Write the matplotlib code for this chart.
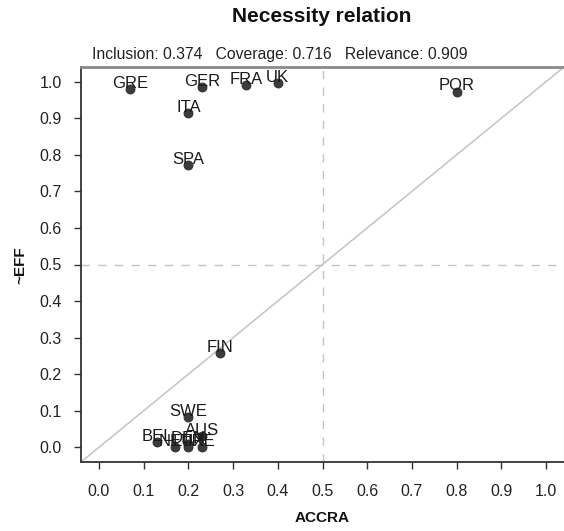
import matplotlib
matplotlib.use("Agg")
import matplotlib.pyplot as plt
import numpy as np

countries = ["GRE", "GER", "FRA", "UK", "ITA", "SPA", "POR", "FIN", "SWE",
             "AUS", "BEL", "NET", "DEN", "LUX", "IRE"]
accra = [0.07, 0.23, 0.33, 0.40, 0.20, 0.20, 0.80, 0.27, 0.20,
         0.23, 0.13, 0.17, 0.20, 0.20, 0.23]
neff = [0.98, 0.985, 0.99, 0.995, 0.915, 0.773, 0.973, 0.258, 0.082,
        0.03, 0.015, 0.0, 0.01, 0.0, 0.0]
ticks = [0.0, 0.1, 0.2, 0.3, 0.4, 0.5, 0.6, 0.7, 0.8, 0.9, 1.0]
tick_labels = ["0.0", "0.1", "0.2", "0.3", "0.4", "0.5", "0.6", "0.7", "0.8", "0.9", "1.0"]
title = "Necessity relation"
subtitle = "Inclusion: 0.374   Coverage: 0.716   Relevance: 0.909"

plt.rcParams['font.family'] = ['Liberation Sans', 'DejaVu Sans']

W, H = 564, 531
fig = plt.figure(figsize=(W / 100, H / 100), dpi=100)
ax = fig.add_axes([81 / W, (H - 462) / H, (564 - 81) / W, (462 - 67) / H])
ax.set_xlim(-0.04, 1.04)
ax.set_ylim(-0.04, 1.04)

ax.plot([-0.04, 1.04], [-0.04, 1.04], color="#c8c8c8", lw=1.2, zorder=1)
ax.axvline(0.5, color="#c4c4c4", lw=1.0, ls=(0, (6, 6)), zorder=1)
ax.axhline(0.5, color="#c4c4c4", lw=1.0, ls=(0, (6, 6)), zorder=1)

ax.scatter(accra, neff, s=42, color="#3c3c3c", edgecolors="#2a2a2a", linewidths=0.6, zorder=3)
for c, x, y in zip(countries, accra, neff):
    ax.annotate(c, (x, y), xytext=(0, 4), textcoords="offset points",
                ha="center", va="center", fontsize=12, color="#1a1a1a", zorder=4)

ax.set_xticks(ticks)
ax.set_xticklabels(tick_labels)
ax.set_yticks(ticks)
ax.set_yticklabels(tick_labels)
ax.tick_params(axis="both", direction="out", length=5, width=1, color="#333333",
               labelsize=11.5, labelcolor="#222222")
ax.tick_params(axis="x", pad=11)
ax.tick_params(axis="y", pad=9)

for s in ["left", "bottom"]:
    ax.spines[s].set_color("#333333")
    ax.spines[s].set_linewidth(1.3)
ax.spines["top"].set_color("#8a8a8a")
ax.spines["top"].set_linewidth(2)
ax.spines["right"].set_color("#e0e0e0")
ax.spines["right"].set_linewidth(1)

fig.text(322 / W, 1 - 17 / H, title, ha="center", va="center", fontsize=15,
         fontweight="bold", color="#111111")
fig.text(92 / W, 1 - 55 / H, subtitle, ha="left", va="center", fontsize=11.3,
         color="#222222")
fig.text(322 / W, 1 - 518 / H, "ACCRA", ha="center", va="center", fontsize=11,
         fontweight="bold", color="#111111")
fig.text(20 / W, 1 - 265 / H, "~EFF", ha="center", va="center", fontsize=11,
         fontweight="bold", rotation=90, color="#111111")

fig.savefig("out.png", dpi=100)
